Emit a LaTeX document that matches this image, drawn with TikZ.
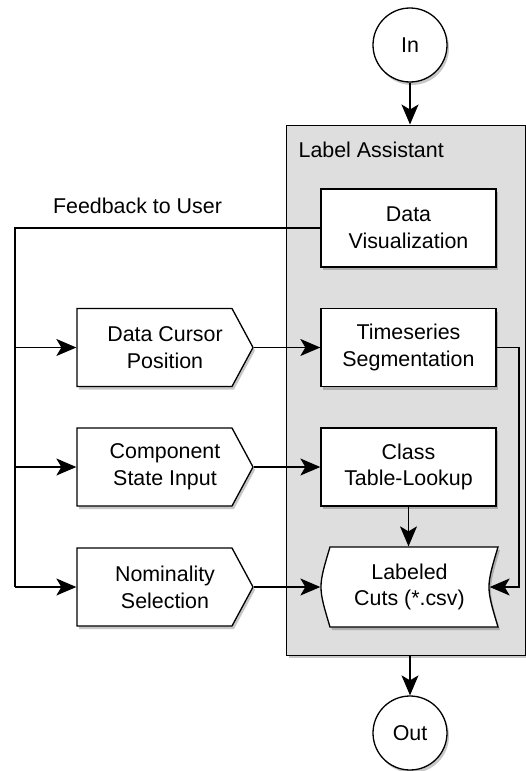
\documentclass[tikz,border=0pt]{standalone}
\usepackage{fontspec}
\setmainfont{Liberation Sans}
\usetikzlibrary{arrows.meta,shadows}

\definecolor{panel}{RGB}{222,222,222}

% pentagon outline around a centre point
\newcommand\pentagonpath[1]{([shift={(-88,-39)}]#1) -- ([shift={(67,-39)}]#1) -- ([shift={(88,0)}]#1)
    -- ([shift={(67,39)}]#1) -- ([shift={(-88,39)}]#1) -- cycle}
% stored-data outline around a centre point
\newcommand\storepath[1]{([shift={(-79.5,-40)}]#1) -- ([shift={(88.5,-40)}]#1)
    .. controls ([shift={(76.5,0)}]#1) .. ([shift={(88.5,40)}]#1)
    -- ([shift={(-79.5,40)}]#1)
    .. controls ([shift={(-91.5,0)}]#1) .. ([shift={(-79.5,-40)}]#1) -- cycle}

\begin{document}
\begin{tikzpicture}[x=1pt,y=-1pt,
  line width=1.3pt,
  every node/.style={font=\fontsize{21.4}{26.7}\selectfont, inner sep=0pt},
  softshadow/.style={drop shadow={shadow xshift=2pt,shadow yshift=-3pt,opacity=0.22,fill=black}},
  box/.style={draw, fill=white, softshadow, minimum width=175pt, minimum height=78pt, align=center},
  slot/.style={minimum width=176pt, minimum height=78pt, align=center},
  term/.style={circle, draw, fill=white, softshadow, minimum size=74pt},
  arr/.style={-{Stealth[length=20pt,width=17pt,inset=5pt]}}
]
\useasboundingbox (0,0) rectangle (526,771);

% the assistant's frame
\node[draw, fill=panel, softshadow, minimum width=239pt, minimum height=530pt, anchor=north west] (frame) at (286,124.5) {};
\node[anchor=base west] (title) at (298,157) {Label Assistant};

% centres of the drawn outlines
\coordinate (dcpc) at (165,347.5);
\coordinate (csic) at (165,467);
\coordinate (nomc) at (165,587);
\coordinate (lcc)  at (409.5,587);

\draw[fill=white, softshadow] \pentagonpath{dcpc};
\draw[fill=white, softshadow] \pentagonpath{csic};
\draw[fill=white, softshadow] \pentagonpath{nomc};
\draw[fill=white, softshadow] \storepath{lcc};

% terminals
\node[term] (in)  at (410,45)  {In};
\node[term] (out) at (410,733) {Out};

% processing steps inside the assistant
\node[box] (dv)  at (408.5,228)   {Data\\Visualization};
\node[box] (ts)  at (408.5,347.5) {Timeseries\\Segmentation};
\node[box] (ctl) at (408.5,467)   {Class\\Table-Lookup};
\node[minimum width=177pt, minimum height=80pt, align=center] (lc) at (lcc) {Labeled\\Cuts (*.csv)};

% user inputs
\node[slot] (dcp) at (dcpc) {Data Cursor\\Position};
\node[slot] (csi) at (csic) {Component\\State Input};
\node[slot] (nom) at (nomc) {Nominality\\Selection};

\node[anchor=base] (fbtext) at (137.5,213.6) {Feedback to User};

% routing points
\coordinate (fb) at (15,228);
\coordinate (rt) at (519,347.5);

% connectors
\draw[arr] (in.south) -- (in.south |- frame.north);
\draw[arr] (out.north |- frame.south) -- (out.north);
\draw (dv.west) -- (fb) -- (fb |- nom.west);
\draw[arr] (fb |- dcp.west) -- (dcp.west);
\draw[arr] (fb |- csi.west) -- (csi.west);
\draw[arr] (fb |- nom.west) -- (nom.west);
\draw[arr] (dcp.east) -- (ts.west);
\draw[arr] (csi.east) -- (ctl.west);
\draw[arr] (nom.east) -- (lc.west);
\draw[arr] (ctl.south) -- (ctl.south |- lc.north);
\draw[arr] (ts.east) -- (rt) |- ([xshift=-9pt]lc.east);
\end{tikzpicture}
\end{document}
